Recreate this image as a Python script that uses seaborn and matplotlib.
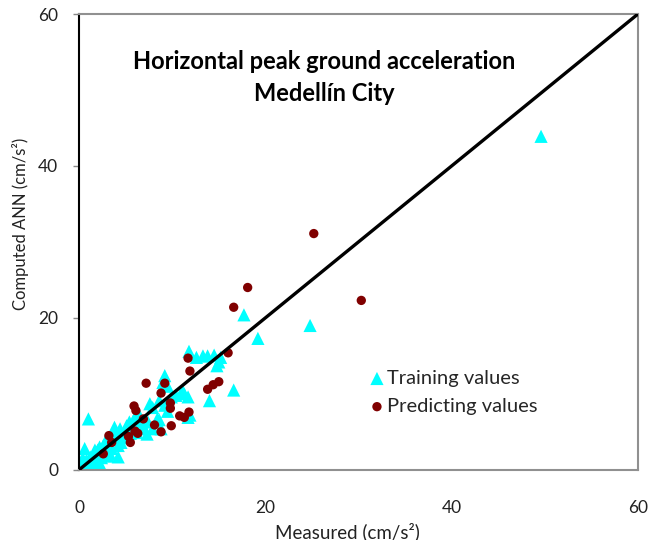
import matplotlib
matplotlib.use("Agg")
import matplotlib.pyplot as plt
import seaborn as sns
import pandas as pd

# Training values (cyan triangles)
train_x = [49.6, 17.7, 24.8, 19.2, 16.6, 14.0,
           11.8, 12.6, 13.3, 13.8, 14.5, 15.2, 15.0, 14.8,
           11.7, 11.3, 11.0, 11.1, 11.7, 11.9,
           9.2, 9.0, 9.5,
           9.9, 10.4, 8.6, 9.2, 7.6, 7.9,
           7.4, 7.0, 8.4, 8.8, 7.9, 9.5, 8.6, 7.3,
           6.3, 6.0, 6.4, 6.7,
           1.0,
           3.8, 4.4, 4.0, 4.2, 3.3, 2.6, 3.0,
           0.6, 0.1, 0.5, 0.0, 1.5, 1.9, 2.2, 1.2,
           5.1, 5.4, 4.9, 4.7, 5.5, 4.2, 3.5, 2.8, 2.4, 1.8, 1.4, 1.0, 0.7, 0.3,
           0.8, 2.0, 2.9, 3.6, 4.5, 5.8, 6.2, 1.3, 0.9, 2.2, 3.1, 0.4, 1.7]
train_y = [43.9, 20.4, 19.0, 17.3, 10.5, 9.1,
           15.6, 14.8, 15.0, 15.0, 15.1, 14.8, 14.2, 13.7,
           9.6, 10.0, 10.2, 10.4, 6.9, 7.2,
           12.4, 11.5, 11.0,
           9.6, 9.8, 9.1, 8.5, 8.7, 8.2,
           6.3, 5.4, 6.7, 5.4, 5.4, 7.7, 6.6, 4.7,
           7.6, 6.9, 5.7, 6.2,
           6.7,
           5.6, 5.4, 4.5, 1.7, 2.1, 3.2, 3.6,
           2.8, 1.0, 0.6, 0.4, 1.9, 2.3, 3.0, 1.7,
           5.8, 6.3, 5.2, 4.2, 4.8, 3.2, 2.8, 2.3, 1.6, 1.2, 0.8, 0.5, 0.3, 0.1,
           1.3, 2.6, 3.9, 4.3, 3.6, 5.3, 4.9, 0.3, 0.1, 0.9, 1.8, 1.5, 2.6]

# Predicting values (dark red circles)
pred_x = [25.2, 18.1, 16.6, 30.3, 16.0, 11.7, 11.9, 15.0, 14.4, 13.8,
          7.2, 9.2, 8.8, 9.8, 9.8, 11.8, 10.8, 11.3, 9.9, 8.1,
          8.8, 6.9, 5.9, 6.1, 5.3, 6.3, 6.0, 5.5, 3.2, 3.5, 2.6]
pred_y = [31.1, 24.0, 21.4, 22.3, 15.4, 14.7, 13.0, 11.6, 11.2, 10.6,
          11.4, 11.4, 10.1, 8.8, 8.1, 7.6, 7.1, 6.9, 5.8, 5.9,
          5.0, 6.7, 8.4, 7.8, 4.4, 4.8, 5.1, 3.6, 4.5, 3.6, 2.1]

ticks = [0, 20, 40, 60]
title_lines = ["Horizontal peak ground acceleration", "Medellín City"]

sns.set_theme(style="white")
plt.rcParams['font.family'] = ['Lato', 'DejaVu Sans']

fig = plt.figure(figsize=(6.59, 5.4), dpi=100)
ax = fig.add_axes([0.12, 0.13, 0.848, 0.844])

df_train = pd.DataFrame({"x": train_x, "y": train_y})
df_pred = pd.DataFrame({"x": pred_x, "y": pred_y})

sns.scatterplot(data=df_train, x="x", y="y", ax=ax, marker="^", s=90,
                color="#00FFFF", edgecolor="none", linewidth=0,
                label="Training values", zorder=2)
sns.scatterplot(data=df_pred, x="x", y="y", ax=ax, marker="o", s=45,
                color="#800000", edgecolor="none", linewidth=0,
                label="Predicting values", zorder=3)
ax.axline((0, 0), (1, 1), color="black", lw=2.4, zorder=4)

ax.set_xlim(0, 60)
ax.set_ylim(0, 60)
ax.set_xticks(ticks)
ax.set_yticks(ticks)
ax.tick_params(axis="x", length=0, pad=22, labelsize=12.5, colors="#222222")
ax.tick_params(axis="y", left=True, length=4, width=1, color="#888888",
               pad=11, labelsize=12.5, labelcolor="#222222")

for side in ["top", "right", "bottom"]:
    ax.spines[side].set_color("#909090")
    ax.spines[side].set_linewidth(1.5)
ax.spines["left"].set_color("black")
ax.spines["left"].set_linewidth(1.5)

ax.set_xlabel("Measured (cm/s²)", fontsize=13.5, color="#222222")
ax.set_ylabel("Computed ANN (cm/s²)", fontsize=12, color="#222222")
ax.xaxis.set_label_coords(0.48, -0.115)
ax.yaxis.set_label_coords(-0.09, 0.54)

ax.text(26.3, 53.7, title_lines[0], ha="center", va="center",
        fontsize=17, fontweight="bold", color="black")
ax.text(26.3, 49.6, title_lines[1], ha="center", va="center",
        fontsize=17, fontweight="bold", color="black")

leg = ax.legend(loc="center left", bbox_to_anchor=(0.497, 0.17), frameon=False,
                fontsize=14.5, handletextpad=0.0, borderpad=0, labelspacing=0.55,
                markerscale=1.0, handlelength=1.0)

fig.savefig("out.png", dpi=100, facecolor="white")
